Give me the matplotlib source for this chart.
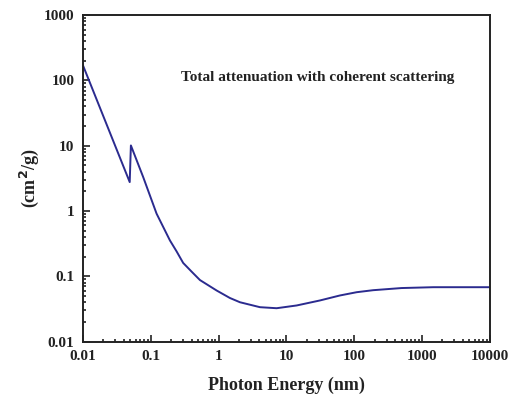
import matplotlib
matplotlib.use('Agg')
import matplotlib.pyplot as plt
from matplotlib.ticker import LogLocator, NullFormatter, FixedLocator

plt.rcParams['font.family'] = ['Liberation Serif', 'DejaVu Serif']
plt.rcParams['font.weight'] = 'bold'

# photon energy (nm) and attenuation (cm^2/g)
energy = [0.01, 0.049, 0.051, 0.0774, 0.122, 0.192, 0.241, 0.301, 0.4,
          0.532, 0.938, 1.47, 2.07, 4.08, 7.19, 14.2, 31.3, 61.7, 109,
          191, 500, 1469, 10000]
atten = [171, 2.77, 10.1, 3.31, 0.91, 0.354, 0.24, 0.16, 0.118,
         0.0875, 0.0605, 0.0465, 0.040, 0.0336, 0.0324, 0.0357, 0.0426,
         0.0508, 0.057, 0.0612, 0.066, 0.068, 0.068]

x_ticks = [0.01, 0.1, 1, 10, 100, 1000, 10000]
x_labels = ['0.01', '0.1', '1', '10', '100', '1000', '10000']
y_ticks = [0.01, 0.1, 1, 10, 100, 1000]
y_labels = ['0.01', '0.1', '1', '10', '100', '1000']

fig = plt.figure(figsize=(5.15, 3.99), dpi=100)
ax = fig.add_axes([0.161, 0.144, 0.79, 0.818])

ax.plot(energy, atten, color='#2b2b8f', lw=1.4)
ax.set_xscale('log')
ax.set_yscale('log')
ax.set_xlim(0.01, 10000)
ax.set_ylim(0.01, 1000)

ax.xaxis.set_major_locator(FixedLocator(x_ticks))
ax.set_xticklabels(x_labels)
ax.yaxis.set_major_locator(FixedLocator(y_ticks))
ax.set_yticklabels(y_labels)
ax.xaxis.set_minor_locator(LogLocator(base=10, subs=range(2, 10), numticks=20))
ax.yaxis.set_minor_locator(LogLocator(base=10, subs=range(2, 10), numticks=20))
ax.xaxis.set_minor_formatter(NullFormatter())
ax.yaxis.set_minor_formatter(NullFormatter())

ax.tick_params(which='both', direction='in', top=False, right=False,
               labelsize=11, width=1.2, pad=6, colors='#222222')
ax.tick_params(which='major', length=5)
ax.tick_params(which='minor', length=2.5)
for s in ax.spines.values():
    s.set_linewidth(1.4)
    s.set_color('#222222')

ax.text(0.242, 0.81, 'Total attenuation with coherent scattering',
        transform=ax.transAxes, fontsize=11, fontweight='bold',
        ha='left', va='center', color='#222222')

ax.set_xlabel('Photon Energy (nm)', fontsize=13, fontweight='bold',
              labelpad=10, color='#222222')
ax.set_ylabel('(cm$^\\mathbf{2}$/g)', fontsize=13, fontweight='bold',
              labelpad=2, color='#222222')

fig.savefig('out.png', dpi=100)
